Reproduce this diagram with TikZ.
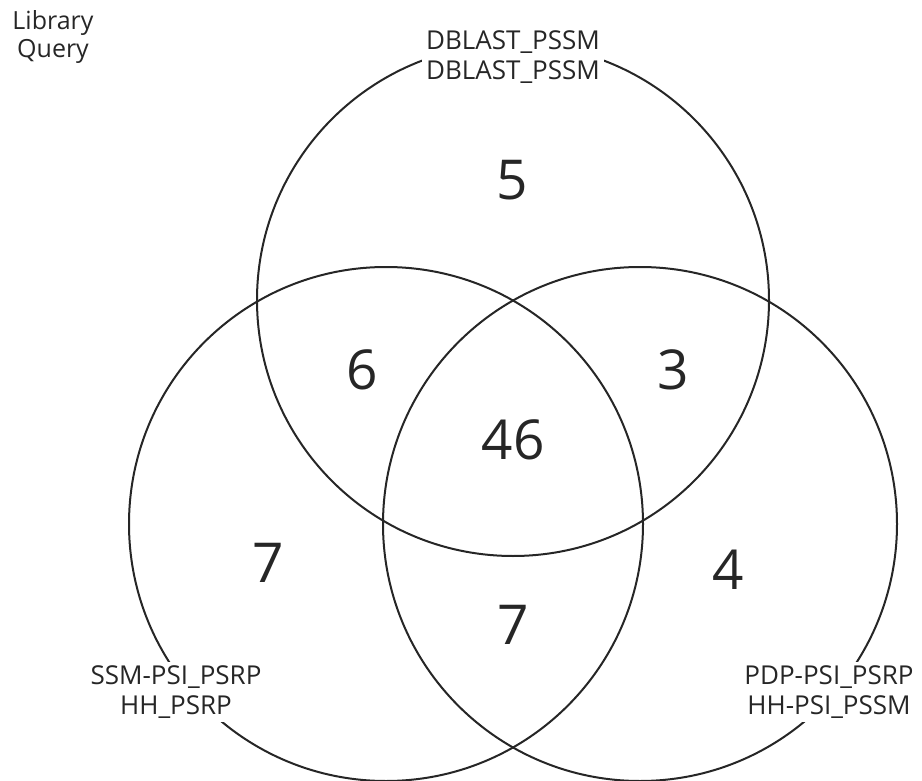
\documentclass[tikz,border=0pt]{standalone}
\usepackage{fontspec}
\setmainfont{Open Sans}
\begin{document}
\begin{tikzpicture}[x=1pt,y=-1pt,
  setline/.style={draw=black!85,line width=2pt},
  setlabel/.style={fill=white,text=black!85,font=\fontsize{26}{30}\selectfont,
    align=center,inner sep=4pt},
  count/.style={text=black!85,font=\fontsize{55}{60}\selectfont,inner sep=0pt}]
  \useasboundingbox (0,0) rectangle (922,781);
  % three sets
  \draw[setline] (513,300) circle (256);
  \draw[setline] (386,524) circle (257);
  \draw[setline] (640,524) circle (257);
  % set labels
  \node[text=black!85,font=\fontsize{25}{28}\selectfont,align=center,inner sep=0pt]
    (key) at (53,37) {Library\\Query};
  \node[setlabel] (top) at (513,57) {DBLAST\_PSSM\\DBLAST\_PSSM};
  \node[setlabel] (left) at (176,692) {SSM-PSI\_PSRP\\HH\_PSRP};
  \node[setlabel] (right) at (829,692) {PDP-PSI\_PSRP\\HH-PSI\_PSSM};
  % region counts
  \node[count] (a) at (512,180) {5};
  \node[count] (ab) at (362,370) {6};
  \node[count] (ac) at (673,370) {3};
  \node[count] (abc) at (513,440) {46};
  \node[count] (b) at (268,563) {7};
  \node[count] (bc) at (513,625) {7};
  \node[count] (c) at (728,570) {4};
\end{tikzpicture}
\end{document}
